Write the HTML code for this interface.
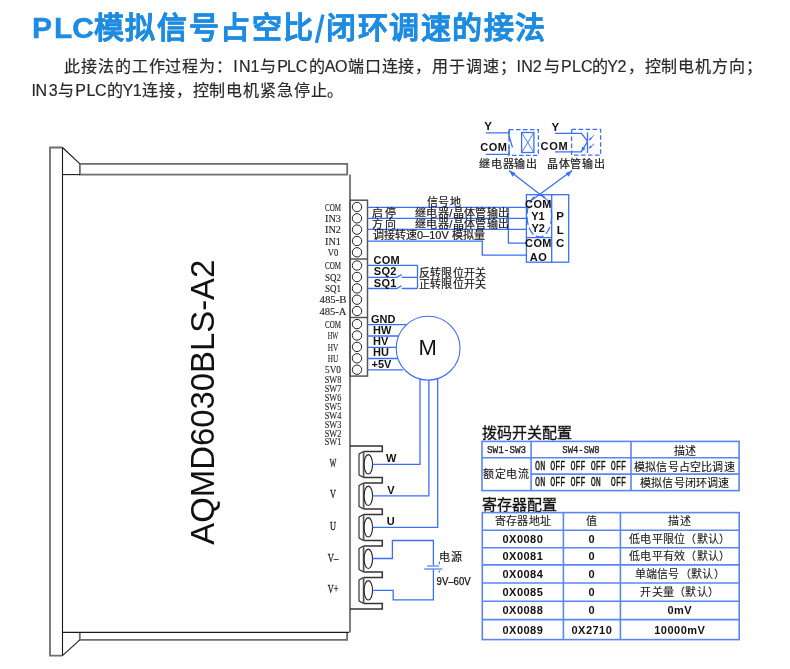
<!DOCTYPE html>
<html lang="zh-CN"><head><meta charset="utf-8">
<style>
html,body{margin:0;padding:0;background:#fff;width:790px;height:669px;overflow:hidden;}
svg{position:absolute;left:0;top:0;display:block;will-change:transform;}
text{font-family:"Liberation Sans",sans-serif;}
.ser text{font-family:"Liberation Serif",serif;font-size:11.2px;fill:#1a1a1a;stroke:#1a1a1a;stroke-width:0.12px;}
.mono{font-family:"Liberation Mono",monospace;}
.b{font-weight:bold;}
</style></head>
<body>
<svg width="790" height="669" viewBox="0 0 790 669">

<text x="32.1 54.0 72.2 93.8 125.4 156.9 188.5 220.1 251.6 283.2" y="38" font-size="30" font-weight="bold" fill="#1e8ce1" stroke="#1e8ce1" stroke-width="0.4">PLC模拟信号占空比</text>
<line x1="316.4" y1="42.8" x2="323" y2="14.6" stroke="#1e8ce1" stroke-width="3.3"/>
<text x="326.0 357.5 389.1 420.6 452.1 483.6 515.2" y="38" font-size="30" font-weight="bold" fill="#1e8ce1" stroke="#1e8ce1" stroke-width="0.4">闭环调速的接法</text>
<text x="64.3 81.2 98.0 114.8 131.7 148.6 165.4 182.2 199.1 215.9 233.2 238.9 250.5 260.1 277.2 287.0 295.8 308.9 324.8 335.0 347.9 364.8 381.6 398.4 415.3 432.1 449.0 465.9 482.7 499.5 516.6 521.3 532.7 543.9 561.0 572.0 581.1 592.2 607.3 617.5 627.6 644.5 661.3 678.1 695.0 711.9 728.7 745.6" y="71.8" font-size="16" fill="#2a2a2a" stroke="#2a2a2a" stroke-width="0.2">此接法的工作过程为：IN1与PLC的AO端口连接，用于调速；IN2与PLC的Y2，控制电机方向；</text>
<text x="31.4 35.4 48.7 58.4 75.3 86.5 95.1 106.6 122.5 132.7 142.0 158.8 175.7 192.6 209.4 226.2 243.1 260.0 276.8 293.6 310.5 327.4" y="95.8" font-size="16" fill="#2a2a2a" stroke="#2a2a2a" stroke-width="0.2">IN3与PLC的Y1连接，控制电机紧急停止。</text>
<g fill="none" stroke="#6f6f6f" stroke-width="1.8">
  <path d="M62.5 147.5 H50 V655.6 H62.5"/>
  <rect x="79.9" y="163.9" width="267.3" height="10.7"/>
  <line x1="350" y1="174.6" x2="350" y2="632.4"/>
  <path d="M79.8 632.4 V639.8 H347.1 V632.4"/>
</g>
<g fill="none" stroke="#1a1a1a" stroke-width="1.1">
  <line x1="62.5" y1="147.5" x2="62.5" y2="655.6"/>
  <line x1="62.5" y1="174.6" x2="79.9" y2="174.6"/>
  <line x1="62.5" y1="632.4" x2="349" y2="632.4"/>
  <line x1="62.5" y1="147.5" x2="79.9" y2="163.9"/>
  <line x1="62.5" y1="655.6" x2="79.8" y2="639.8"/>
</g>
<text transform="translate(214,402.2) rotate(-90)" font-size="34" text-anchor="middle" fill="#111" textLength="285" lengthAdjust="spacingAndGlyphs">AQMD6030BLS-A2</text>

<g fill="none" stroke="#555" stroke-width="1.5"><rect x="350" y="200.2" width="17.5" height="175.9"/><line x1="350" y1="259" x2="367.5" y2="259"/><line x1="350" y1="317.5" x2="367.5" y2="317.5"/></g>
<g fill="none" stroke="#222" stroke-width="1"><circle cx="357" cy="207" r="4.7"/><circle cx="357" cy="218.3" r="4.7"/><circle cx="357" cy="229.6" r="4.7"/><circle cx="357" cy="241" r="4.7"/><circle cx="357" cy="252.3" r="4.7"/><circle cx="357" cy="265.5" r="4.7"/><circle cx="357" cy="277" r="4.7"/><circle cx="357" cy="288.4" r="4.7"/><circle cx="357" cy="299.7" r="4.7"/><circle cx="357" cy="311" r="4.7"/><circle cx="357" cy="324.1" r="4.7"/><circle cx="357" cy="335.5" r="4.7"/><circle cx="357" cy="346.9" r="4.7"/><circle cx="357" cy="358.3" r="4.7"/><circle cx="357" cy="369.7" r="4.7"/></g>
<g class="ser" text-anchor="middle">
<text x="333" y="210.7" textLength="16.0" lengthAdjust="spacingAndGlyphs">COM</text>
<text x="333" y="222.0" textLength="16.0" lengthAdjust="spacingAndGlyphs">IN3</text>
<text x="333" y="233.3" textLength="16.0" lengthAdjust="spacingAndGlyphs">IN2</text>
<text x="333" y="244.7" textLength="16.0" lengthAdjust="spacingAndGlyphs">IN1</text>
<text x="333" y="256.0" textLength="10.5" lengthAdjust="spacingAndGlyphs">V0</text>
<text x="333" y="269.2" textLength="16.0" lengthAdjust="spacingAndGlyphs">COM</text>
<text x="333" y="280.7" textLength="16.0" lengthAdjust="spacingAndGlyphs">SQ2</text>
<text x="333" y="292.1" textLength="16.0" lengthAdjust="spacingAndGlyphs">SQ1</text>
<text x="333" y="303.4" textLength="27.0" lengthAdjust="spacingAndGlyphs">485-B</text>
<text x="333" y="314.7" textLength="27.0" lengthAdjust="spacingAndGlyphs">485-A</text>
<text x="333" y="327.8" textLength="16.0" lengthAdjust="spacingAndGlyphs">COM</text>
<text x="333" y="339.2" textLength="10.5" lengthAdjust="spacingAndGlyphs">HW</text>
<text x="333" y="350.6" textLength="10.5" lengthAdjust="spacingAndGlyphs">HV</text>
<text x="333" y="362.0" textLength="10.5" lengthAdjust="spacingAndGlyphs">HU</text>
<text x="333" y="373.4" textLength="16.0" lengthAdjust="spacingAndGlyphs">5V0</text>
<text x="333" y="382.9" textLength="16.5" lengthAdjust="spacingAndGlyphs">SW8</text>
<text x="333" y="391.8" textLength="16.5" lengthAdjust="spacingAndGlyphs">SW7</text>
<text x="333" y="400.8" textLength="16.5" lengthAdjust="spacingAndGlyphs">SW6</text>
<text x="333" y="409.7" textLength="16.5" lengthAdjust="spacingAndGlyphs">SW5</text>
<text x="333" y="418.6" textLength="16.5" lengthAdjust="spacingAndGlyphs">SW4</text>
<text x="333" y="427.5" textLength="16.5" lengthAdjust="spacingAndGlyphs">SW3</text>
<text x="333" y="436.5" textLength="16.5" lengthAdjust="spacingAndGlyphs">SW2</text>
<text x="333" y="445.4" textLength="16.5" lengthAdjust="spacingAndGlyphs">SW1</text>
<text x="333" y="467.2" textLength="6.5" lengthAdjust="spacingAndGlyphs" style="font-size:12px;stroke-width:0.3px">W</text>
<text x="333" y="498.4" textLength="6.0" lengthAdjust="spacingAndGlyphs" style="font-size:12px;stroke-width:0.3px">V</text>
<text x="333" y="530.2" textLength="6.0" lengthAdjust="spacingAndGlyphs" style="font-size:12px;stroke-width:0.3px">U</text>
<text x="333" y="561.8" textLength="10.5" lengthAdjust="spacingAndGlyphs" style="font-size:12px;stroke-width:0.3px">V–</text>
<text x="333" y="593.2" textLength="10.5" lengthAdjust="spacingAndGlyphs" style="font-size:12px;stroke-width:0.3px">V+</text>
</g>
<path d="M350 446 H382.3 V451.4 H363.5 M363.5 477.5 H382.3 V482.9 H363.5 M363.5 509.0 H382.3 V514.4 H363.5 M363.5 540.5 H382.3 V545.9 H363.5 M363.5 572.0 H382.3 V577.4 H363.5 M363.5 603.5 H382.3 V608.9 H350" fill="none" stroke="#333" stroke-width="1.5"/>
<g fill="none" stroke="#222" stroke-width="1.1"><path d=" M363.5 451.4 L359 454.0 V474.9 L363.5 477.5 M363.5 482.9 L359 485.5 V506.4 L363.5 509.0 M363.5 514.4 L359 517.0 V537.9 L363.5 540.5 M363.5 545.9 L359 548.5 V569.4 L363.5 572.0 M363.5 577.4 L359 580.0 V600.9 L363.5 603.5"/><path d=" M363.6 451.4 V477.5 M363.6 482.9 V509.0 M363.6 514.4 V540.5 M363.6 545.9 V572.0 M363.6 577.4 V603.5" stroke="#555" stroke-width="1.7"/><ellipse cx="368.3" cy="464.3" rx="4.25" ry="9.7"/><ellipse cx="368.3" cy="495.8" rx="4.25" ry="9.7"/><ellipse cx="368.3" cy="527.3" rx="4.25" ry="9.7"/><ellipse cx="368.3" cy="558.8" rx="4.25" ry="9.7"/><ellipse cx="368.3" cy="590.3" rx="4.25" ry="9.7"/></g>
<g fill="none" stroke="#3c6efa" stroke-width="1.3">
<path d="M367.5 207.3 H526.4 M367.5 218.3 H526.4 M367.5 229.3 H526.4 M367.5 241.2 H482.3 V255.2 H526.4 M508.4 207.3 V243.2 H526.4"/>
<path d="M367.5 265.4 H417.5 V288.5 M367.5 277.3 H396.9 L401.5 274.6 M401.7 277.3 H417.5 M367.5 288.5 H396.9 L401.5 285.8 M401.7 288.5 H417.5"/>
<circle cx="428.1" cy="348.2" r="31.9" stroke-width="1.1"/>
<path d="M367.5 324.6 H406.8 M367.5 336 H398.2 M367.5 347.4 H396.2 M367.5 358.5 H397.9 M367.5 369.8 H403"/>
<path d="M372.5 464.3 H420 V379 M372.5 495.8 H428.9 V380.1 M372.5 527.3 H437.7 V378.6"/>
<path d="M372.5 558.5 H392.4 V540.5 H433.4 V565.6 M372.5 590.3 H393.2 V599.9 H433.4 V568.8"/>
<path d="M427.2 566 H439 M424.2 568.9 H442.4" stroke="#6f92f7" stroke-width="1.5"/><path d="M439.4 561.5 V564.3" stroke-width="1.2"/>
<rect x="526.4" y="194.7" width="42.3" height="67.5"/><line x1="551.7" y1="194.7" x2="551.7" y2="262.2"/><line x1="526.4" y1="237.6" x2="551.7" y2="237.6"/>
<path d="M546 199 L509 170.6 M532 200 L572.2 170.6"/>
<ellipse cx="539.3" cy="216" rx="12.3" ry="21" stroke-dasharray="8 3"/>
<path d="M485.8 132.9 H509 M509 136 L512.5 147.4 M485.8 154.3 H509"/>
<rect x="509" y="129.6" width="29.4" height="25.7" stroke-dasharray="4.5 2.5"/>
<path d="M509 129.6 V137 M509 146.2 V155.3"/>
<rect x="521.6" y="132.5" width="12.3" height="20" stroke-width="1.3"/>
<path d="M521.6 132.5 L533.9 152.5 M533.9 132.5 L521.6 152.5" stroke-width="0.9"/>
<path d="M555 133.3 H581.4 L587.6 141.4 L581.4 151.8 H555 M587.5 132.2 V153.1"/>
<rect x="571.6" y="129.3" width="29" height="25.9" stroke-dasharray="4.5 2.5"/>
<path d="M593.9 135.5 L589.3 139.9 M593.9 143.9 L589.3 148.1" stroke-width="1"/>
</g>
<g fill="#3c6efa">
<path d="M509 170.6 L515.6 172.9 L512.6 176.8 Z"/><path d="M572.2 170.6 L568.6 176.8 L565.6 172.9 Z"/>
<path d="M581.2 151.6 L582.2 146.4 L585.6 149 Z"/><path d="M438.2 570.8 H440.6 L439.4 573 Z"/>
<path d="M588.8 140.4 L590.2 137.2 L592 139 Z"/><path d="M588.8 148.6 L590.2 145.4 L592 147.2 Z"/>
</g>
<text x="427.6" y="354.6" font-size="22" text-anchor="middle" fill="#111">M</text>
<g class="b" font-size="11" fill="#111">
<text x="371" y="323.2" letter-spacing="0">GND</text>
<text x="373" y="334" letter-spacing="0">HW</text>
<text x="373" y="345.2" letter-spacing="0">HV</text>
<text x="373" y="356.4" letter-spacing="0">HU</text>
<text x="371.5" y="367.6" letter-spacing="0">+5V</text>
<text x="373.4" y="263.7" letter-spacing="0.3">COM</text>
<text x="373.8" y="275.3" letter-spacing="0.3">SQ2</text>
<text x="373.8" y="287" letter-spacing="0.3">SQ1</text>
<text x="386" y="461.5" letter-spacing="0">W</text>
<text x="387.2" y="493.7" letter-spacing="0">V</text>
<text x="386.8" y="525.3" letter-spacing="0">U</text>
<text x="480.3" y="150.6" letter-spacing="0.5">COM</text>
<text x="540.6" y="150.2" letter-spacing="0.7">COM</text>
<text x="484.2" y="130" font-size="11.5">Y</text><text x="551.6" y="130.6" font-size="11.5">Y</text>
</g>
<g class="b" font-size="11" fill="#111" text-anchor="middle">
<text x="538.5" y="207.9" letter-spacing="0.4" font-size="11">COM</text>
<text x="538" y="219.9" letter-spacing="0" font-size="11">Y1</text>
<text x="538.2" y="231.6" letter-spacing="0" font-size="11">Y2</text>
<text x="538.5" y="247.4" letter-spacing="0.4" font-size="11">COM</text>
<text x="538.6" y="260.5" letter-spacing="0.5" font-size="11">AO</text>
<text x="560.2" y="219.8" letter-spacing="0" font-size="11.5">P</text>
<text x="560.3" y="233.5" letter-spacing="0" font-size="11.5">L</text>
<text x="560.2" y="247.3" letter-spacing="0" font-size="11.5">C</text>
</g>
<g font-size="11" fill="#1a1a1a" stroke="#1a1a1a" stroke-width="0.2">
<text x="426.8" y="205.5" letter-spacing="0.6">信号地</text>
<text x="372.1" y="216.8" letter-spacing="2">启停</text>
<text x="415.1" y="216.8" letter-spacing="0.35">继电器/晶体管输出</text>
<text x="372.1" y="228" letter-spacing="2">方向</text>
<text x="415.1" y="228" letter-spacing="0.35">继电器/晶体管输出</text>
<text x="373" y="239.3" letter-spacing="0">调接转速0–10V 模拟量</text>
<text x="418.8" y="277.4" letter-spacing="0.3">反转限位开关</text>
<text x="418.8" y="288.2" letter-spacing="0.3">正转限位开关</text>
<text x="439" y="561.2" letter-spacing="1">电源</text>
<text x="479.2" y="167.7" letter-spacing="0.75">继电器输出</text>
<text x="547" y="167.7" letter-spacing="0.65">晶体管输出</text>
</g>
<text x="436.6" y="585.1" font-size="10.5" fill="#111" stroke="#111" stroke-width="0.25" textLength="34" lengthAdjust="spacingAndGlyphs">9V–60V</text>
<text x="482" y="437.5" font-size="15" fill="#111" stroke="#111" stroke-width="0.3">拨码开关配置</text>
<g fill="none" stroke="#5a85f5" stroke-width="1.6"><rect x="482" y="441.4" width="257.1" height="49.2"/><path d="M482 457.8 H739.1 M531.1 474.1 H739.1 M531.1 441.4 V490.6 M631 441.4 V490.6"/></g>
<g font-size="11" fill="#111">
<text x="506.6" y="453.2" class="mono" text-anchor="middle" stroke="#111" stroke-width="0.25" textLength="39.3" lengthAdjust="spacingAndGlyphs">SW1-SW3</text>
<text x="581" y="453.2" class="mono" text-anchor="middle" stroke="#111" stroke-width="0.25" textLength="37.4" lengthAdjust="spacingAndGlyphs">SW4-SW8</text>
<text x="684.9" y="454.5" text-anchor="middle" font-size="11" letter-spacing="0" stroke="#1a1a1a" stroke-width="0.1">描述</text>
<text x="506.2" y="477.8" text-anchor="middle" font-size="11" letter-spacing="0.5" stroke="#1a1a1a" stroke-width="0.1">额定电流</text>
<text x="535.1" y="469.5" class="mono" font-size="12" stroke="#111" stroke-width="0.3" textLength="90.9" lengthAdjust="spacingAndGlyphs" xml:space="preserve">ON OFF OFF OFF OFF</text>
<text x="535.1" y="486" class="mono" font-size="12" stroke="#111" stroke-width="0.3" textLength="90.9" lengthAdjust="spacingAndGlyphs" xml:space="preserve">ON OFF OFF ON  OFF</text>
<text x="634" y="470.5" font-size="11" letter-spacing="0.2" stroke="#1a1a1a" stroke-width="0.1">模拟信号占空比调速</text>
<text x="640.3" y="486.8" font-size="11" letter-spacing="0.1" stroke="#1a1a1a" stroke-width="0.1">模拟信号闭环调速</text>
</g>
<text x="482" y="509.5" font-size="15" fill="#111" stroke="#111" stroke-width="0.3">寄存器配置</text>
<g fill="none" stroke="#5a85f5" stroke-width="1.6"><rect x="482.3" y="512.6" width="256.9" height="127"/><path d="M482.3 530.3 H739.2 M482.3 547.7 H739.2 M482.3 564.9 H739.2 M482.3 583.0 H739.2 M482.3 601.2 H739.2 M482.3 619.6 H739.2 M563.4 512.6 V639.6 M620.4 512.6 V639.6"/></g>
<g font-size="11" letter-spacing="0.3" fill="#1a1a1a" stroke="#1a1a1a" stroke-width="0.1" text-anchor="middle">
<text x="522.9" y="525.3">寄存器地址</text><text x="591.9" y="525.3">值</text><text x="679.8" y="525.3">描述</text>
<text x="679.8" y="542.8">低电平限位（默认）</text><text x="679.8" y="560">低电平有效（默认）</text><text x="679.8" y="578">单端信号（默认）</text><text x="679.8" y="596">开关量（默认）</text>
</g>
<g font-size="11" fill="#111" class="b" text-anchor="middle" letter-spacing="0.5">
<text x="522.9" y="542.8">0X0080</text><text x="591.9" y="542.8">0</text>
<text x="522.9" y="560.1">0X0081</text><text x="591.9" y="560.1">0</text>
<text x="522.9" y="577.8">0X0084</text><text x="591.9" y="577.8">0</text>
<text x="522.9" y="595.9">0X0085</text><text x="591.9" y="595.9">0</text>
<text x="522.9" y="614.2">0X0088</text><text x="591.9" y="614.2">0</text>
<text x="679.8" y="614.2">0mV</text>
<text x="522.9" y="634.4">0X0089</text><text x="591.9" y="634.4">0X2710</text>
<text x="679.8" y="634.4">10000mV</text>
</g>
</svg>
</body></html>
